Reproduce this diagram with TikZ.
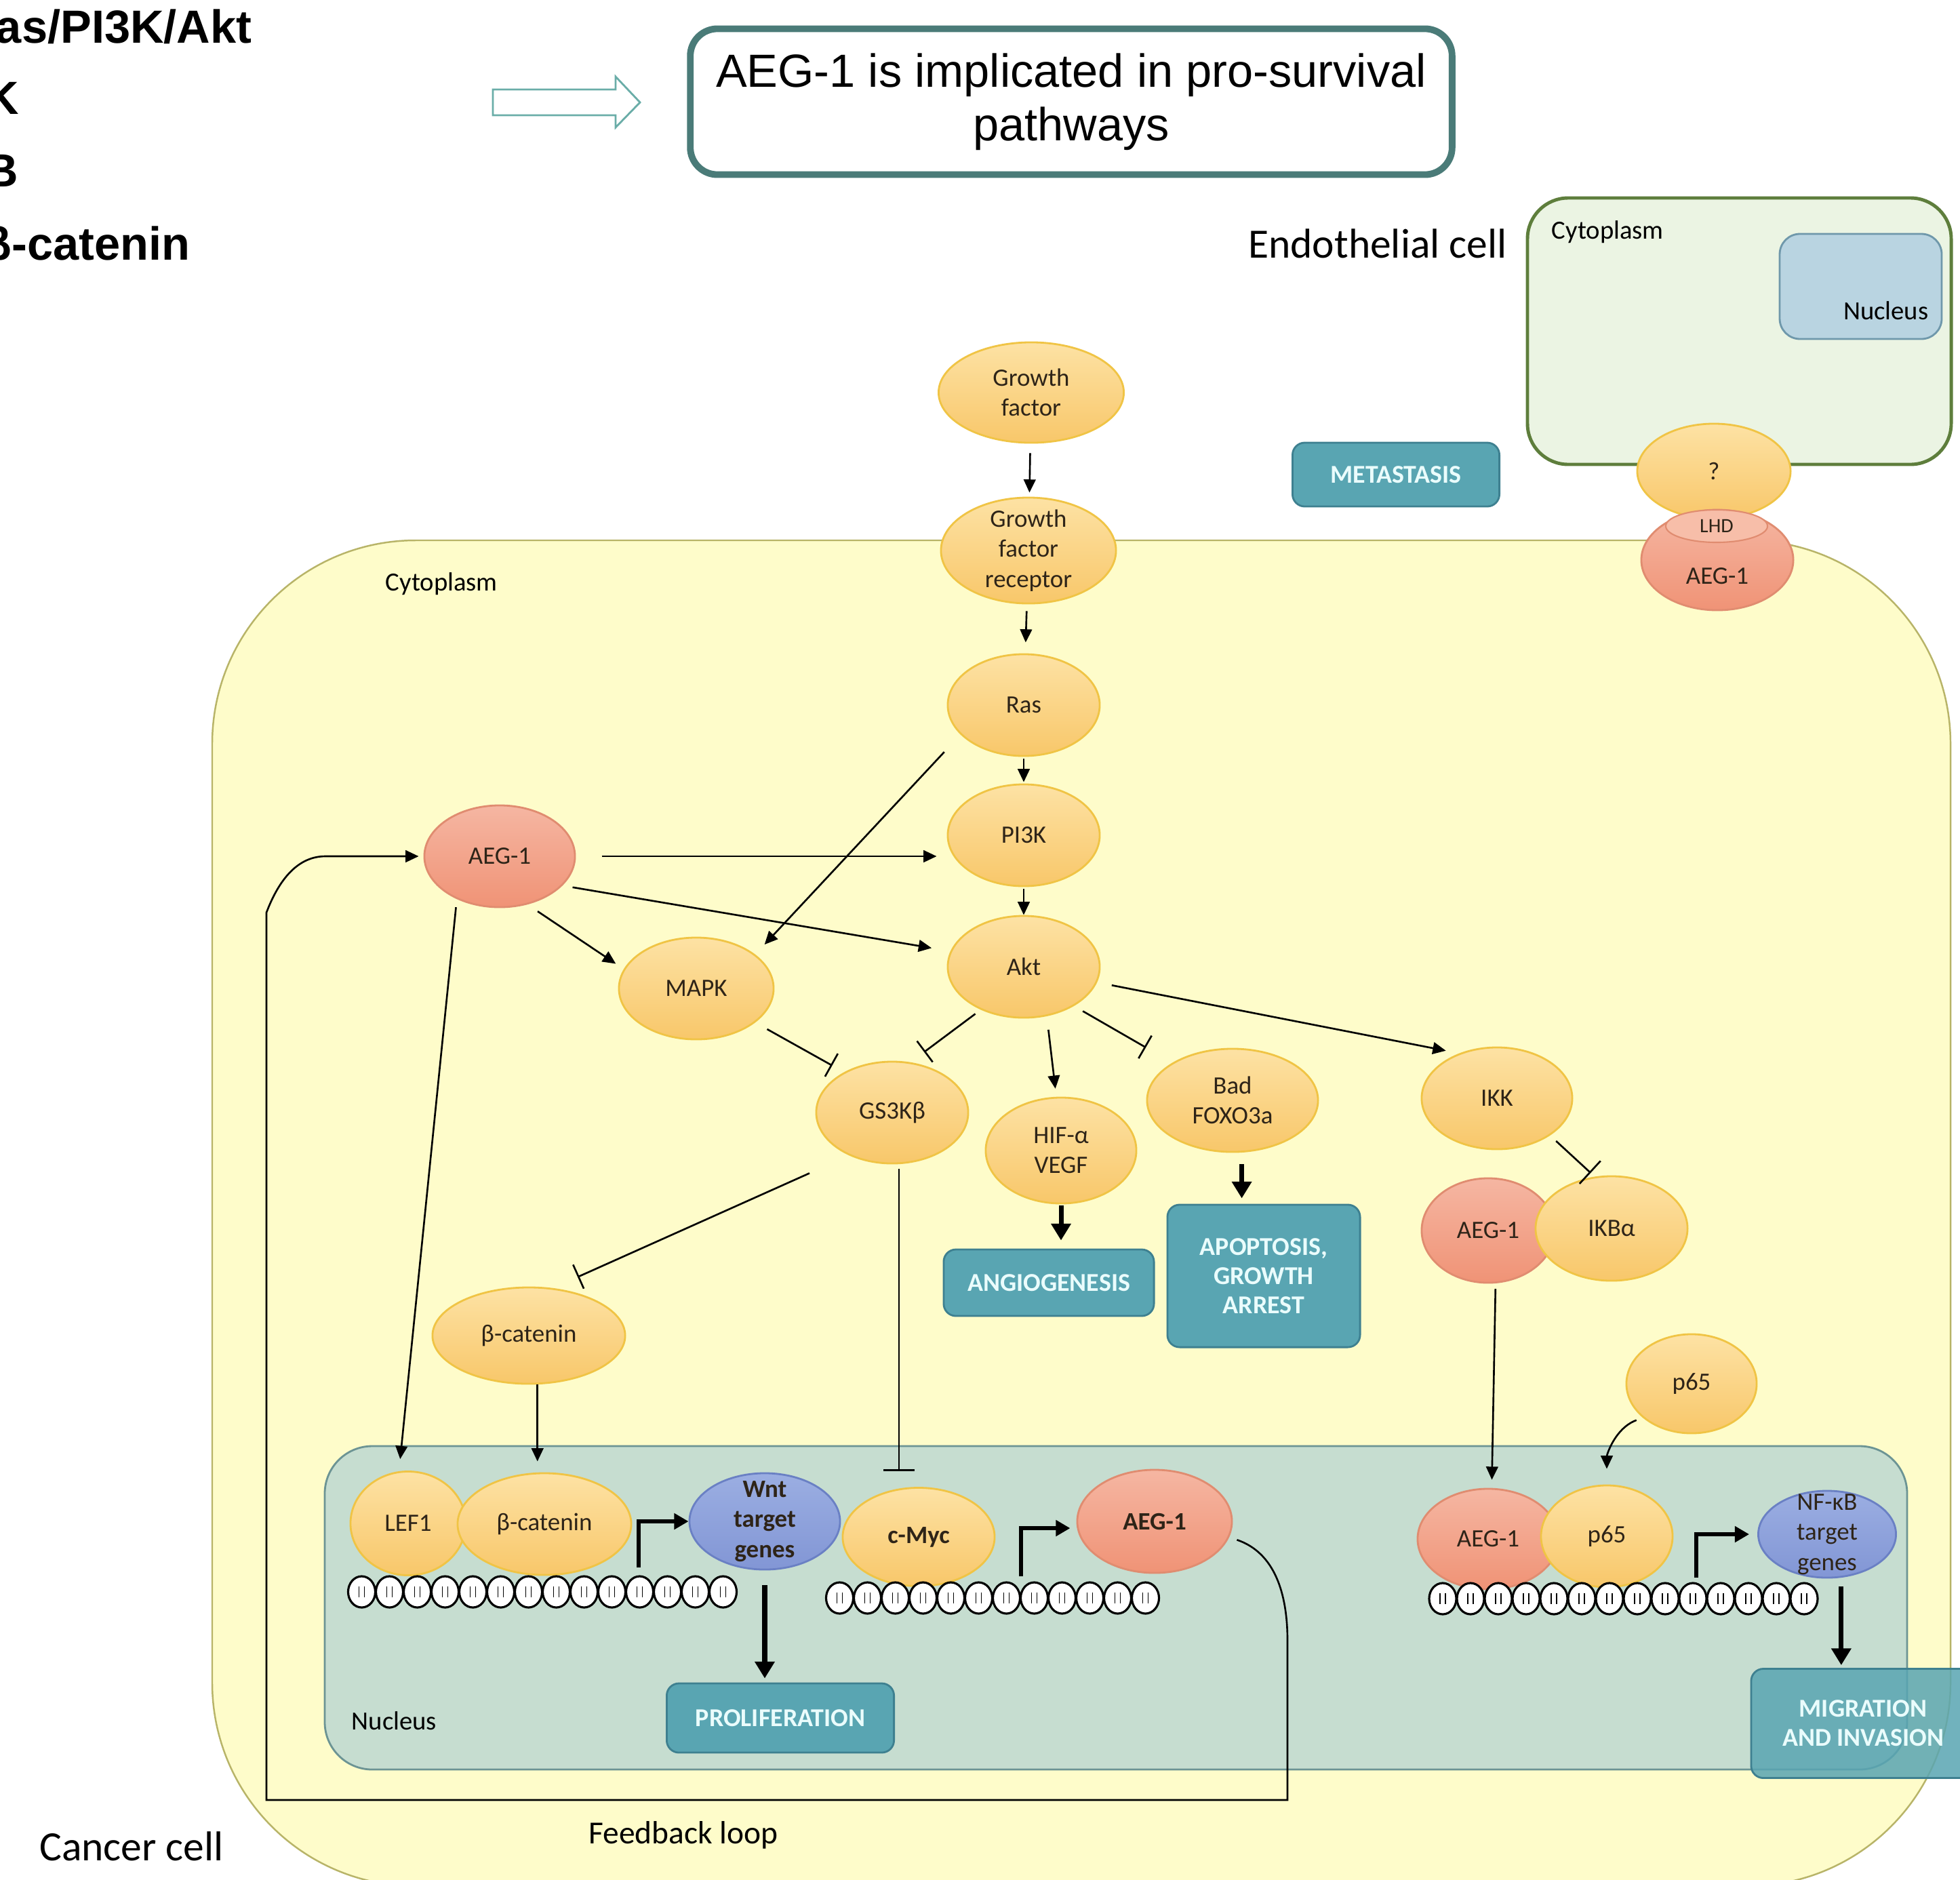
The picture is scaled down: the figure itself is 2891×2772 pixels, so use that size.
\documentclass[tikz,border=0pt]{standalone}
\usepackage{fontspec}
\setmainfont{Carlito}
\newfontfamily\arialfont{Liberation Sans}
\usepackage{tikz}
\usetikzlibrary{arrows.meta,shapes.geometric,calc}

\definecolor{protTop}{HTML}{FDE2A4}
\definecolor{protBot}{HTML}{F8C76A}
\definecolor{protEdge}{HTML}{F0C445}
\definecolor{aegTop}{HTML}{F5B6A2}
\definecolor{aegBot}{HTML}{F09376}
\definecolor{aegEdge}{HTML}{E08C70}
\definecolor{lhdFill}{HTML}{F7BEA9}
\definecolor{geneTop}{HTML}{9BAEE2}
\definecolor{geneBot}{HTML}{8296D5}
\definecolor{geneEdge}{HTML}{6A80C4}
\definecolor{outFill}{HTML}{59A5B2}
\definecolor{outEdge}{HTML}{3E8090}
\definecolor{outText}{HTML}{EAFCFC}
\definecolor{cellFill}{HTML}{FEFCCA}
\definecolor{cellEdge}{HTML}{B8B468}
\definecolor{nucFill}{HTML}{C6DDD0}
\definecolor{nucEdge}{HTML}{6C9494}
\definecolor{endoFill}{HTML}{EBF4E3}
\definecolor{endoEdge}{HTML}{5E7E3C}
\definecolor{endoNuc}{HTML}{B9D4E1}
\definecolor{endoNucEdge}{HTML}{6F98AB}
\definecolor{claimEdge}{HTML}{4A7B78}
\definecolor{hollowEdge}{HTML}{6AADA8}
\definecolor{nodeText}{HTML}{2E2418}

\begin{document}
\begin{tikzpicture}[x=0.01cm, y=-0.01cm,
  bubble/.style={ellipse, line width=0.8pt, minimum width=2.24cm, minimum height=1.5cm,
    inner sep=0pt, text=nodeText, align=center, font=\fontsize{10.5}{12.6}\selectfont},
  prot/.style={bubble, draw=protEdge, top color=protTop, bottom color=protBot},
  aegnode/.style={bubble, draw=aegEdge, top color=aegTop, bottom color=aegBot},
  gene/.style={bubble, draw=geneEdge, top color=geneTop, bottom color=geneBot},
  tight/.style={inner ysep=-6pt},
  boldtxt/.style={font=\bfseries\fontsize{10.5}{12.6}\selectfont},
  outcome/.style={rectangle, rounded corners=0.18cm, draw=outEdge, line width=0.8pt, fill=outFill,
    text=outText, align=center, inner sep=0pt, font=\bfseries\fontsize{10.8}{12.3}\selectfont},
  lbl/.style={text=black, inner sep=0pt, font=\fontsize{11}{13}\selectfont},
  pathtxt/.style={anchor=base east, inner sep=0pt, font=\arialfont\bfseries\fontsize{19.5}{23}\selectfont},
  arr/.style={-{Triangle[length=5.5pt,width=5pt]}, line width=0.75pt},
  inh/.style={-{Bar[width=11pt]}, line width=0.75pt},
  fat/.style={-{Triangle[length=7pt,width=8pt]}, line width=2pt},
  tss/.style={-{Triangle[length=6pt,width=6.5pt]}, line width=1.8pt},
  bead/.style={draw=black, fill=white, line width=0.9pt},
  beadmark/.style={line width=0.45pt}]

\useasboundingbox (0,0) rectangle (2891,2772);
\clip (0,0) rectangle (2891,2772);
\fill[white] (0,0) rectangle (2891,2772);

\node[pathtxt] (path1) at (372,63) {as/PI3K/Akt};
\node[pathtxt] (path2) at (29,168) {K};
\node[pathtxt] (path3) at (28,275) {B};
\node[pathtxt] (path4) at (281,383) {β-catenin};

\draw[hollowEdge, line width=0.8pt, fill=white] (727,132) -- (908,132) -- (908,113) -- (944,151) -- (908,188) -- (908,170) -- (727,170) -- cycle;
\node[draw=claimEdge, line width=2.8pt, rounded corners=0.4cm, minimum width=11.23cm, minimum height=2.15cm,
  align=center, inner sep=0pt, font=\arialfont\fontsize{19.5}{22.5}\selectfont] (claim) at (1580,150)
  {AEG-1 is implicated in pro-survival\\pathways};

\draw[endoEdge, line width=1.4pt, fill=endoFill, rounded corners=0.6cm] (2253,292) rectangle (2878,685);
\draw[endoNucEdge, line width=0.8pt, fill=endoNuc, rounded corners=0.3cm] (2625,345) rectangle (2864,500);
\draw[cellEdge, line width=0.7pt, fill=cellFill, rounded corners=3cm] (313,797) rectangle (2877,2782);
\draw[nucEdge, line width=0.8pt, fill=nucFill, rounded corners=0.7cm] (479,2133) rectangle (2813,2610);

\node[lbl, font=\fontsize{17.5}{20}\selectfont] (endol) at (2032,359) {Endothelial cell};
\node[lbl, font=\fontsize{17.5}{20}\selectfont] (cancerl) at (194,2723) {Cancer cell};
\node[lbl, font=\fontsize{13.5}{16}\selectfont] (fbl) at (1008,2707) {Feedback loop};
\node[lbl, anchor=west] (ecytol) at (2288,342) {Cytoplasm};
\node[lbl, anchor=east] (enucl) at (2845,458) {Nucleus};
\node[lbl, anchor=west] (cytol) at (568,861) {Cytoplasm};
\node[lbl, anchor=west] (nucl) at (518,2538) {Nucleus};

\node[prot, minimum width=2.26cm, minimum height=1.40cm] (unk) at (2528,695) {?};
\node[aegnode, minimum width=2.24cm, minimum height=1.48cm] (aegm) at (2533,826) {};
\node[ellipse, draw=aegEdge, line width=0.6pt, fill=lhdFill, minimum width=1.5cm, minimum height=0.48cm,
  inner sep=0pt, text=nodeText, font=\fontsize{8.5}{10}\selectfont] (lhd) at (2532,776) {LHD};
\node[text=nodeText, inner sep=0pt, font=\fontsize{10.5}{12.6}\selectfont] (aegmt) at ([yshift=-0.24cm]aegm.center) {AEG-1};

\node[prot, minimum width=2.73cm, minimum height=1.48cm] (gf) at (1521,579) {Growth\\factor};
\node[prot, tight, minimum width=2.58cm, minimum height=1.56cm] (gfr) at (1517,812) {Growth\\factor\\receptor};
\node[prot] (ras) at (1510,1040) {Ras};
\node[prot] (pi3k) at (1510,1232) {PI3K};
\node[prot] (akt) at (1510,1426) {Akt};
\node[aegnode, minimum width=2.22cm] (aeg) at (737,1263) {AEG-1};
\node[prot, minimum width=2.28cm] (mapk) at (1027,1458) {MAPK};
\node[prot] (gsk) at (1316,1641) {GS3Kβ};
\node[prot, minimum width=2.22cm, minimum height=1.56cm] (hif) at (1565,1697) {HIF-α\\VEGF};
\node[prot, minimum width=2.52cm, minimum height=1.52cm] (bad) at (1818,1623) {Bad\\FOXO3a};
\node[prot, minimum width=2.22cm] (ikk) at (2208,1620) {IKK};
\node[aegnode, minimum width=1.96cm, minimum height=1.54cm] (aegi) at (2195,1815) {AEG-1};
\node[prot, minimum height=1.54cm] (ikb) at (2377,1812) {IKBα};
\node[prot, minimum width=2.84cm, minimum height=1.42cm] (bcat) at (780,1970) {β-catenin};
\node[prot, minimum width=1.92cm, minimum height=1.46cm] (p65c) at (2495,2041) {p65};

\node[prot, minimum width=1.70cm, minimum height=1.53cm] (lef) at (602,2247) {LEF1};
\node[prot, minimum width=2.56cm] (bcatn) at (803,2248) {β-catenin};
\node[gene, tight, boldtxt, minimum width=2.22cm, minimum height=1.42cm] (wnt) at (1128,2244) {Wnt\\target\\genes};
\node[prot, boldtxt, minimum height=1.45cm] (myc) at (1355,2267) {c-Myc};
\node[aegnode, boldtxt, minimum width=2.28cm, minimum height=1.52cm] (aegn) at (1703,2244) {AEG-1};
\node[aegnode, minimum width=2.08cm, minimum height=1.48cm] (aegr) at (2195,2270) {AEG-1};
\node[prot, minimum width=1.94cm, minimum height=1.5cm] (p65n) at (2370,2266) {p65};
\node[gene, tight, minimum width=2.03cm, minimum height=1.28cm] (nfkb) at (2695,2263) {NF-κB\\target\\genes};

\foreach \i in {0,...,13} {
  \draw[bead] (533.5+41*\i,2348) ellipse (0.2cm and 0.23cm);
  \draw[beadmark] (529.5+41*\i,2340) -- +(0,16) (537.5+41*\i,2340) -- +(0,16);
}
\foreach \i in {0,...,11} {
  \draw[bead] (1238.5+41*\i,2357) ellipse (0.2cm and 0.23cm);
  \draw[beadmark] (1234.5+41*\i,2349) -- +(0,16) (1242.5+41*\i,2349) -- +(0,16);
}
\foreach \i in {0,...,13} {
  \draw[bead] (2128+41*\i,2358) ellipse (0.2cm and 0.23cm);
  \draw[beadmark] (2124+41*\i,2350) -- +(0,16) (2132+41*\i,2350) -- +(0,16);
}

\node[outcome, minimum width=3.05cm, minimum height=0.94cm] (meta) at (2059,700) {METASTASIS};
\node[outcome, minimum width=3.10cm, minimum height=0.98cm] (angio) at (1547,1892) {ANGIOGENESIS};
\node[outcome, minimum width=2.84cm, minimum height=2.10cm] (apop) at (1864,1882) {APOPTOSIS,\\GROWTH\\ARREST};
\node[outcome, minimum width=3.35cm, minimum height=1.02cm] (prolif) at (1151,2534) {PROLIFERATION};
\node[outcome, fill opacity=0.85, text opacity=1, minimum width=3.30cm, minimum height=1.61cm] (migr) at (2748,2542) {MIGRATION\\AND INVASION};

\draw[arr, shorten <=0.14cm, shorten >=0.06cm] (gf) -- (gfr);
\draw[arr, shorten <=0.1cm, shorten >=0.16cm] (gfr) -- (ras);
\draw[arr, shorten <=0.03cm, shorten >=0.02cm] (ras) -- (pi3k);
\draw[arr, shorten <=0.03cm] (pi3k) -- (akt);
\draw[arr, shorten <=0.38cm, shorten >=0.15cm] (aeg.east) -- (aeg.east -| pi3k.west);
\draw[arr, shorten <=0.15cm, shorten >=0.28cm] (aeg.-25) -- (akt.168);
\draw[arr, shorten <=0.18cm, shorten >=0.14cm] (aeg.-60) -- (mapk.165);
\draw[arr, shorten <=0.35cm, shorten >=0.2cm] (ras.205) -- (mapk.30);
\draw[arr, shorten <=0.12cm, shorten >=0.18cm] (aeg.-135) -- (lef.100);
\draw[arr, shorten >=0.16cm] (bcat.-80) -- (bcat.-80 |- bcatn.north);
\draw[inh] ([shift={(-122,13)}]gsk.south) -- ([shift={(72,-14)}]bcat.north);
\draw[inh, shorten <=0.2cm, shorten >=0.2cm] (mapk.-30) -- (gsk.140);
\draw[inh, shorten <=0.1cm, shorten >=0.25cm] (akt.-135) -- (gsk.70);
\draw[arr, shorten <=0.2cm, shorten >=0.12cm] (akt.-65) -- (hif.95);
\draw[inh, shorten <=0.15cm, shorten >=0.45cm] (akt.-38) -- (bad.148);
\draw[arr, shorten <=0.22cm, shorten >=0.2cm] (akt.-12) -- (ikk.130);
\draw[inh, -{Bar[width=13pt]}, shorten <=0.12cm, shorten >=0.08cm] (ikk.-35) -- (ikb.108);
\draw[arr, shorten <=0.08cm, shorten >=0.12cm] (aegi.-82) -- (aegr.86);
\draw[arr, shorten <=0.1cm, shorten >=0.23cm] (p65c.215) to[out=200, in=90] (p65n.north);
\coordinate (gskout) at ([xshift=0.1cm]gsk.south);
\draw[inh, -{Bar[width=13pt]}, shorten <=0.07cm, shorten >=0.23cm] (gskout) -- (gskout |- myc.north);

\draw[fat, shorten <=0.02cm, shorten >=0.12cm] (hif.south) -- (hif.south |- angio.north);
\draw[fat, shorten <=0.17cm, shorten >=0.08cm] (bad.-80) -- (bad.-80 |- apop.north);
\draw[fat, shorten <=0.22cm, shorten >=0.06cm] (wnt.south) -- (wnt.south |- prolif.north);
\draw[fat, shorten <=0.13cm, shorten >=0.04cm] (nfkb.-72) -- (nfkb.-72 |- migr.north);

\coordinate (tss1) at (942,2312);
\coordinate (tss2) at (1506,2325);
\coordinate (tss3) at (2502,2327);
\draw[tss] (tss1) |- (wnt.west);
\draw[tss, shorten >=0.1cm] (tss2) |- (aegn.185);
\draw[tss, shorten >=0.12cm] (tss3) |- (nfkb.west);

\draw[arr, shorten <=0.12cm, shorten >=0.07cm] (aegn.-12) .. controls (1880,2290) and (1899,2350) .. (1899,2420)
  -- (1899,2655) -- (393,2655) -- (393,1346) .. controls (412,1296) and (440,1263) .. (480,1263) -- (aeg.west);
\end{tikzpicture}
\end{document}
